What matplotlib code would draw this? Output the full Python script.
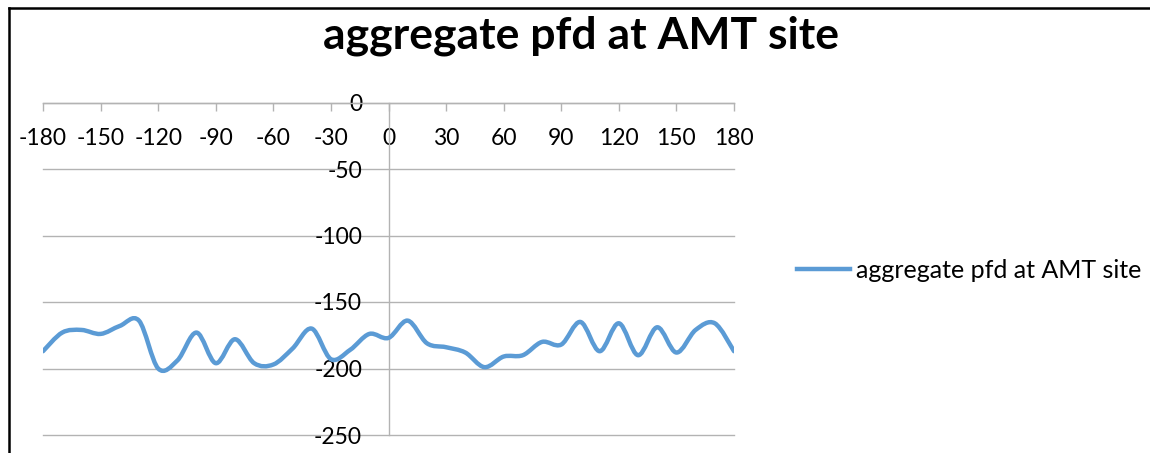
import numpy as np
import matplotlib
matplotlib.use("Agg")
import matplotlib.pyplot as plt
from matplotlib.path import Path
from matplotlib.patches import PathPatch
from matplotlib.lines import Line2D

plt.rcParams['font.family'] = ['Lato', 'DejaVu Sans']

# data
angle = [-180, -170, -160, -150, -140, -130, -120, -110, -100, -90, -80, -70, -60,
         -50, -40, -30, -20, -10, 0, 10, 20, 30, 40, 50, 60, 70, 80, 90, 100, 110,
         120, 130, 140, 150, 160, 170, 180]
pfd = [-187, -173, -171, -174, -168, -164, -200, -194, -173, -196, -178, -196, -197,
       -185, -170, -193, -186, -174, -177, -164, -181, -184, -188, -199, -191, -190,
       -180, -182, -165, -187, -166, -190, -169, -188, -171, -166, -187]
x_ticks = list(range(-180, 181, 30))
y_ticks = [0, -50, -100, -150, -200, -250]
series_name = "aggregate pfd at AMT site"
title = "aggregate pfd at AMT site"

line_color = "#5B9BD5"
grid_color = "#b3b3b3"


def smooth_path(xs, ys):
    # Excel-like smoothed line: cubic bezier segments (catmull-rom control points)
    pts = np.column_stack([xs, ys]).astype(float)
    n = len(pts)
    verts = [pts[0]]
    codes = [Path.MOVETO]
    for i in range(n - 1):
        p0 = pts[i - 1] if i > 0 else pts[i]
        p1 = pts[i]
        p2 = pts[i + 1]
        p3 = pts[i + 2] if i + 2 < n else pts[i + 1]
        c1 = p1 + (p2 - p0) / 6.0
        c2 = p2 - (p3 - p1) / 6.0
        verts += [c1, c2, p2]
        codes += [Path.CURVE4] * 3
    return Path(verts, codes)


fig = plt.figure(figsize=(11.5, 4.53), dpi=100)
ax = fig.add_axes([43 / 1150, 1 - 435 / 453, 691 / 1150, (435 - 102.5) / 453])

ax.add_patch(PathPatch(smooth_path(angle, pfd), fill=False, edgecolor=line_color,
                       lw=3.2, capstyle='round', joinstyle='round', zorder=3))

ax.set_xlim(-180, 180)
ax.set_ylim(-250, 0)
ax.set_xticks(x_ticks)
ax.set_yticks(y_ticks)
ax.set_xticklabels([str(v) for v in x_ticks])
ax.set_yticklabels([str(v) for v in y_ticks])

for s in ['top', 'right']:
    ax.spines[s].set_visible(False)
ax.spines['bottom'].set_position(('data', 0))
ax.spines['left'].set_position(('data', 0))
for s in ['bottom', 'left']:
    ax.spines[s].set_color(grid_color)
    ax.spines[s].set_linewidth(1)
    ax.spines[s].set_zorder(1)

ax.yaxis.grid(True, color=grid_color, lw=1)
for gl in ax.get_ygridlines():
    gl.set_clip_on(False)
ax.set_axisbelow(True)

ax.tick_params(axis='x', direction='out', length=6, width=1, color=grid_color,
               labelsize=16.5, pad=12.5)
ax.tick_params(axis='y', length=0, labelsize=16.5, pad=19)

fig.text(0.505, 1 - 48 / 453, title, ha='center', va='baseline',
         fontsize=32, fontweight='bold')

handle = Line2D([], [], color=line_color, lw=3.2)
fig.legend([handle], [series_name], loc='center left',
           bbox_to_anchor=(797 / 1150, 1 - 270 / 453), frameon=False,
           fontsize=18, handlelength=2.1, handletextpad=0.28, borderpad=0,
           borderaxespad=0)

# frame edges visible in the screenshot
fig.add_artist(Line2D([9 / 1150, 9 / 1150], [0, 1 - 8 / 453], color='black', lw=1.8,
                      transform=fig.transFigure))
fig.add_artist(Line2D([9 / 1150, 1], [1 - 8 / 453, 1 - 8 / 453], color='black', lw=1.8,
                      transform=fig.transFigure))

fig.savefig("out.png", dpi=100)
